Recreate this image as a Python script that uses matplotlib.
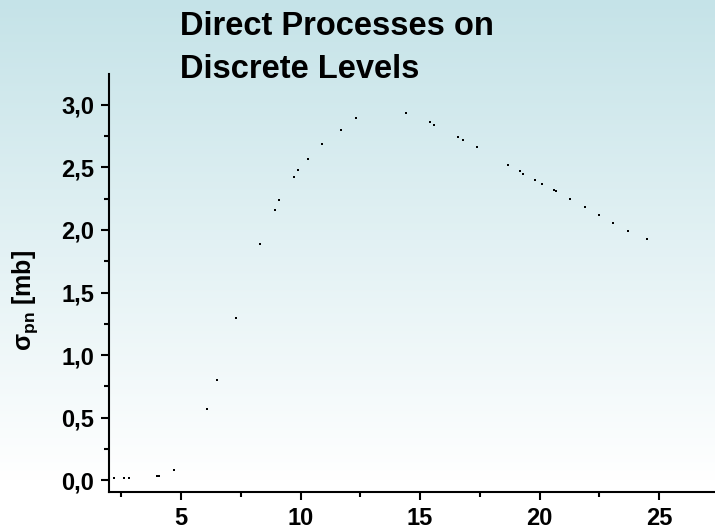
import numpy as np
import matplotlib
matplotlib.use('Agg')
import matplotlib.pyplot as plt
from matplotlib.ticker import MultipleLocator, FuncFormatter

plt.rcParams['font.family'] = ['Liberation Sans', 'DejaVu Sans']
plt.rcParams['font.weight'] = 'bold'
plt.rcParams['mathtext.fontset'] = 'custom'
plt.rcParams['mathtext.default'] = 'bf'
plt.rcParams['mathtext.bf'] = 'Liberation Sans:bold'
plt.rcParams['mathtext.rm'] = 'Liberation Sans:bold'
plt.rcParams['mathtext.it'] = 'Liberation Sans:bold'

# proton energy [MeV] and cross section [mb]
energy = [2.21, 2.62, 2.82, 4.01, 4.09, 4.71, 6.10, 6.51, 7.30, 8.31,
          8.92, 9.10, 9.72, 9.90, 10.30, 10.90, 11.71, 12.31, 14.40, 15.41,
          15.59, 16.60, 16.80, 17.40, 18.68, 19.20, 19.30, 19.80, 20.09, 20.61,
          20.69, 21.29, 21.89, 22.49, 23.09, 23.70, 24.49]
sigma_pn = [0.016, 0.016, 0.016, 0.032, 0.032, 0.085, 0.57, 0.80, 1.30, 1.885,
            2.16, 2.24, 2.42, 2.48, 2.566, 2.69, 2.80, 2.89, 2.93, 2.86,
            2.84, 2.74, 2.72, 2.66, 2.52, 2.47, 2.45, 2.40, 2.37, 2.32,
            2.31, 2.25, 2.18, 2.12, 2.055, 1.99, 1.93]

fig = plt.figure(figsize=(7.15, 5.31), dpi=100)

# vertical teal-to-white background
bg = fig.add_axes([0, 0, 1, 1], zorder=-10)
t = np.clip(np.linspace(0, 531, 531) / 480.0, 0, 1)
top = np.array([197, 227, 232]) / 255.0
grad = top[None, :] + (1 - top[None, :]) * t[:, None]
bg.imshow(grad[:, None, :], aspect='auto', extent=[0, 1, 0, 1], origin='upper')
bg.axis('off')

ax = fig.add_axes([0.1529, 0.074, 0.8471, 0.7866])
ax.patch.set_alpha(0)
ax.plot(energy, sigma_pn, 's', color='black', markersize=1.6, markeredgewidth=0)

ax.set_xlim(2.0, 27.34)
ax.set_ylim(-0.091, 3.245)
ax.spines['top'].set_visible(False)
ax.spines['right'].set_visible(False)
for s in ('left', 'bottom'):
    ax.spines[s].set_linewidth(1.5)

ax.xaxis.set_major_locator(MultipleLocator(5))
ax.xaxis.set_minor_locator(MultipleLocator(2.5))
ax.yaxis.set_major_locator(MultipleLocator(0.5))
ax.yaxis.set_minor_locator(MultipleLocator(0.25))
ax.yaxis.set_major_formatter(FuncFormatter(lambda v, p: ('%.1f' % v).replace('.', ',')))
ax.xaxis.set_major_formatter(FuncFormatter(lambda v, p: '%d' % v))
ax.tick_params(which='major', direction='out', length=6, width=1.5, labelsize=17, pad=5)
ax.tick_params(which='minor', direction='out', length=3.5, width=1.5)

# y axis title
fig.text(25 / 715, 1 - 300 / 531, r'$\sigma_{pn}$ [mb]', fontsize=18, fontweight='bold',
         rotation=90, ha='center', va='center')

fig.text(180 / 715, 1 - 35 / 531, 'Direct Processes on', fontsize=23.5, fontweight='bold', va='baseline')
fig.text(180 / 715, 1 - 78 / 531, 'Discrete Levels', fontsize=23.5, fontweight='bold', va='baseline')

fig.savefig('out.png', dpi=100)
